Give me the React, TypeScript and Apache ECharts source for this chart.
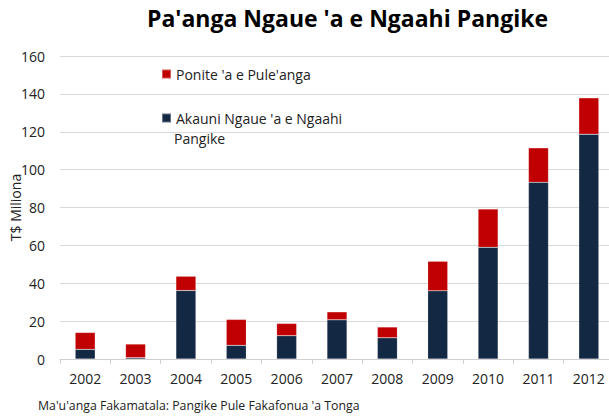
import React, { useEffect, useRef } from "react";
import * as echarts from "echarts";

const years = ["2002", "2003", "2004", "2005", "2006", "2007", "2008", "2009", "2010", "2011", "2012"];
const akauni = [5.1, 0.7, 36.2, 7.2, 12.3, 20.7, 11.2, 36.0, 59.0, 93.3, 118.7];
const ponite = [8.9, 7.2, 7.5, 13.7, 6.5, 4.2, 5.7, 15.6, 20.2, 18.2, 19.2];
const yTicks = { min: 0, max: 160, interval: 20 };

const titleText = "Pa'anga Ngaue 'a e Ngaahi Pangike";
const sourceText = "Ma'u'anga Fakamatala: Pangike Pule Fakafonua 'a Tonga";
const nameAkauni = "Akauni Ngaue 'a e Ngaahi Pangike";
const namePonite = "Ponite 'a e Pule'anga";
const yName = "T$ Miliona";

const FONT = "'Open Sans', 'Noto Sans', sans-serif";

export default function App() {
  const ref = useRef<HTMLDivElement>(null);
  useEffect(() => {
    document.body.style.margin = "0";
    if (!ref.current) return;
    const chart = echarts.init(ref.current, null, { renderer: "svg" });
    chart.setOption({
      animation: false,
      backgroundColor: "#ffffff",
      textStyle: { fontFamily: FONT },
      title: [
        {
          text: titleText,
          left: 147,
          top: 6,
          padding: 0,
          textStyle: { fontFamily: FONT, fontSize: 23, fontWeight: "bold", color: "#000000" },
        },
        {
          text: sourceText,
          left: 38,
          top: 399,
          padding: 0,
          textStyle: { fontFamily: FONT, fontSize: 12.3, fontWeight: "normal", color: "#222222" },
        },
      ],
      legend: [
        {
          data: [namePonite],
          left: 161,
          top: 67,
          padding: 0,
          itemWidth: 9,
          itemHeight: 9,
          icon: "rect",
          textStyle: { fontFamily: FONT, fontSize: 14, color: "#222222" },
        },
        {
          data: [nameAkauni],
          left: 161,
          top: 111,
          padding: 0,
          itemWidth: 9,
          itemHeight: 9,
          icon: "rect",
          formatter: () => "Akauni Ngaue 'a e Ngaahi",
          textStyle: { fontFamily: FONT, fontSize: 14, color: "#222222" },
        },
      ],
      graphic: [
        {
          type: "text",
          left: 174,
          top: 131,
          style: { text: "Pangike", fontFamily: FONT, fontSize: 14, fill: "#222222" },
        },
      ],
      grid: { left: 60, width: 554, top: 56, bottom: 57, outerBoundsMode: "none", containLabel: false },
      xAxis: {
        type: "category",
        data: years,
        boundaryGap: true,
        axisLine: { lineStyle: { color: "#d0d0d0" } },
        axisTick: { show: true, length: 5, interval: 0, lineStyle: { color: "#d0d0d0" } },
        axisLabel: { fontFamily: FONT, fontSize: 14, color: "#222222", margin: 12 },
      },
      yAxis: {
        type: "value",
        min: yTicks.min,
        max: yTicks.max,
        interval: yTicks.interval,
        name: yName,
        nameLocation: "middle",
        nameRotate: 90,
        nameGap: 38,
        nameMoveOverlap: false,
        nameTextStyle: { fontFamily: FONT, fontSize: 14, color: "#222222" },
        axisLine: { show: false },
        axisTick: { show: false },
        splitLine: { lineStyle: { color: "#d9d9d9" } },
        axisLabel: { fontFamily: FONT, fontSize: 14, color: "#222222", margin: 15 },
      },
      series: [
        {
          name: nameAkauni,
          type: "bar",
          stack: "total",
          data: akauni,
          barWidth: 20,
          itemStyle: { color: "#132843", borderColor: "rgba(255,255,255,0.35)", borderWidth: 0.5 },
        },
        {
          name: namePonite,
          type: "bar",
          stack: "total",
          data: ponite,
          barWidth: 20,
          itemStyle: { color: "#C00000", borderColor: "rgba(255,255,255,0.35)", borderWidth: 0.5 },
        },
      ],
    });
    return () => chart.dispose();
  }, []);
  return (
    <div
      ref={ref}
      style={{ position: "absolute", left: 0, top: 0, width: 609, height: 416 }}
    />
  );
}
